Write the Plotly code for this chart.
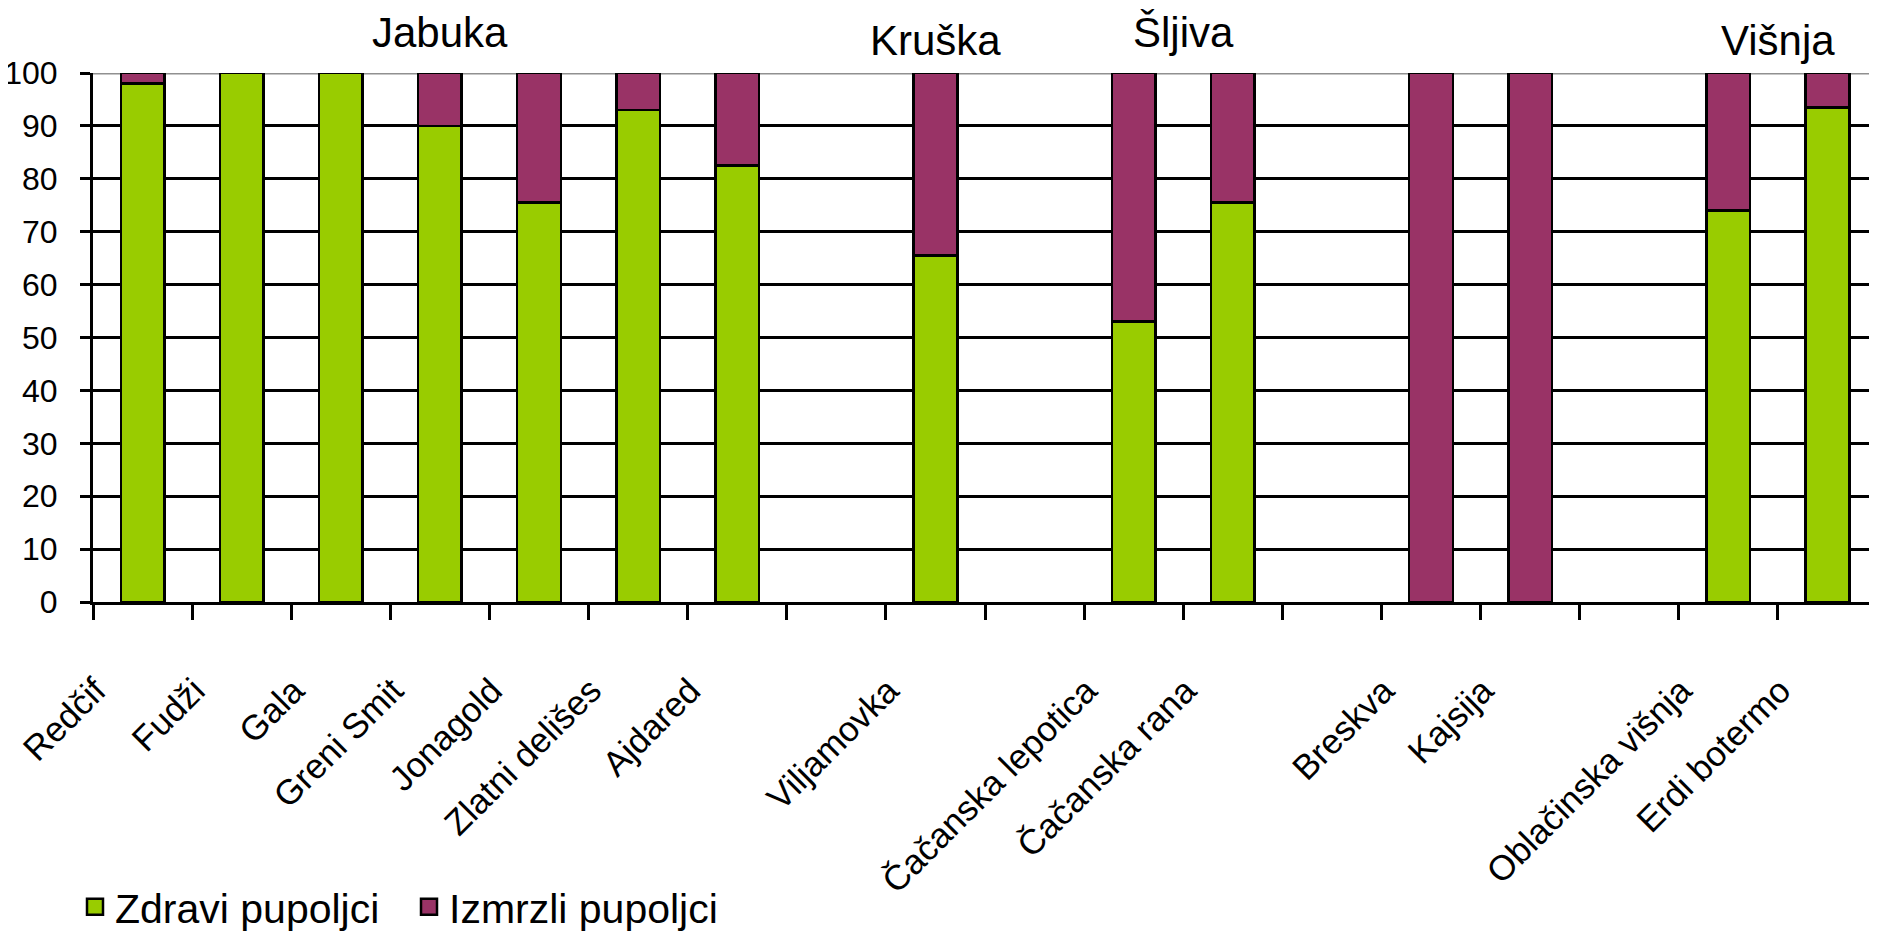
import plotly.graph_objects as go

# categories ("" = empty slot on the axis)
categories = ["Redčif", "Fudži", "Gala", "Greni Smit", "Jonagold", "Zlatni delišes", "Ajdared",
              "", "Viljamovka", "", "Čačanska lepotica", "Čačanska rana", "",
              "Breskva", "Kajsija", "", "Oblačinska višnja", "Erdi botermo"]
zdravi = [98, 100, 100, 90, 75.5, 93, 82.5, None, 65.5, None, 53, 75.5, None, 0, 0, None, 74, 93.5]
izmrzli = [2, 0, 0, 10, 24.5, 7, 17.5, None, 34.5, None, 47, 24.5, None, 100, 100, None, 26, 6.5]
series_names = ["Zdravi pupoljci", "Izmrzli pupoljci"]
groups = ["Jabuka", "Kruška", "Šljiva", "Višnja"]
group_pos = [3, 8, 10.5, 16.5]
y_ticks = list(range(0, 101, 10))

GREEN = "#99CC00"
PURPLE = "#993366"
FONT = "Liberation Sans"

W, H = 1869, 924  # page body adds an 8px margin

x = list(range(len(categories)))

fig = go.Figure()
for name, vals, col in [(series_names[0], zdravi, GREEN), (series_names[1], izmrzli, PURPLE)]:
    fig.add_trace(go.Bar(x=x, y=vals, name=name, width=0.44, showlegend=False,
                         marker=dict(color=col, line=dict(color="black", width=2.5))))
# legend entries with larger square swatches
for name, col in [(series_names[0], GREEN), (series_names[1], PURPLE)]:
    fig.add_trace(go.Scatter(x=[None], y=[None], mode="markers", name=name,
                             marker=dict(symbol="square", size=22, color=col,
                                         line=dict(color="black", width=2.5))))

for g, p, shift in zip(groups, group_pos, [15, 7, 15, 7]):
    fig.add_annotation(x=p, xref="x", y=1, yref="paper", text=g, showarrow=False,
                       yanchor="bottom", yshift=shift, font=dict(family=FONT, size=42, color="black"))

# grey top line at 100
fig.add_shape(type="line", xref="paper", x0=0, x1=1, yref="y", y0=100, y1=100,
              line=dict(color="#909090", width=3), layer="between")

fig.update_layout(
    width=W, height=H,
    margin=dict(l=85, r=0, t=65, b=330, autoexpand=False),
    plot_bgcolor="white", paper_bgcolor="white",
    barmode="stack",
    font=dict(family=FONT, color="black"),
    showlegend=True,
    legend=dict(orientation="h", xref="container", yref="container", x=67 / W, y=1 - 899 / H,
                xanchor="left", yanchor="middle", font=dict(size=41, family=FONT),
                traceorder="normal",
                entrywidth=289, entrywidthmode="pixels", itemsizing="trace"),
    xaxis=dict(range=[-0.5, 17.5], tickmode="array", tickvals=x, ticktext=categories,
               tickangle=-45, ticks="", showgrid=False, zeroline=False, automargin=False,
               showline=True, linecolor="black", linewidth=3,
               tickfont=dict(size=35, family=FONT, color="black"),
               ticklabelstandoff=51, ticklabelshift=-47,
               minor=dict(tick0=-0.5, dtick=1, ticks="outside", ticklen=15, tickwidth=2.5,
                          tickcolor="black", showgrid=False)),
    yaxis=dict(range=[0, 100], tickmode="array", tickvals=y_ticks, ticks="outside", ticklen=10,
               tickwidth=2.5, tickcolor="black", showgrid=True, gridcolor="black", gridwidth=2.5,
               zeroline=False, showline=True, linecolor="black", linewidth=3, automargin=False,
               tickfont=dict(size=32, family=FONT, color="black"), ticklabelstandoff=16),
)

fig.write_html("out.html")
